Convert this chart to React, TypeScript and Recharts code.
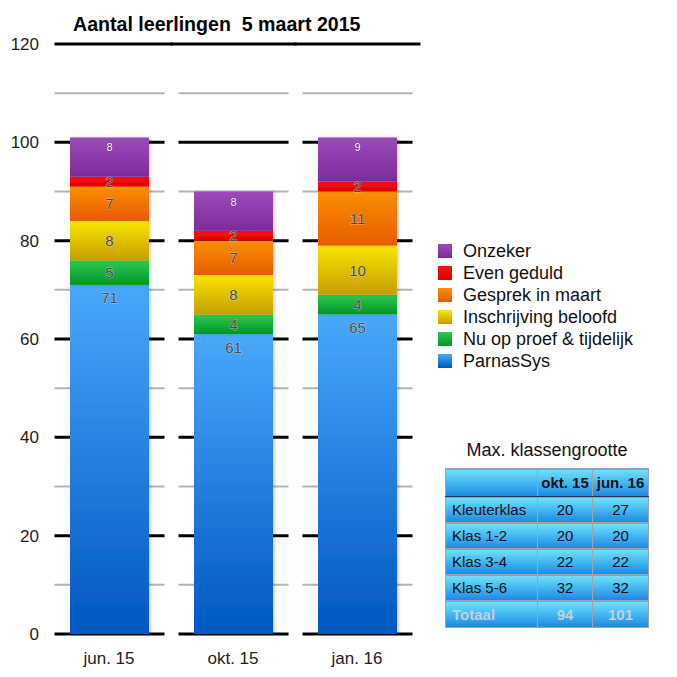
import React from 'react';
import { BarChart, Bar, XAxis, YAxis, LabelList } from 'recharts';

const categories = ['jun. 15', 'okt. 15', 'jan. 16'];
const parnasSys = [71, 61, 65];
const nuOpProef = [5, 4, 4];
const inschrijving = [8, 8, 10];
const gesprek = [7, 7, 11];
const evenGeduld = [2, 2, 2];
const onzeker = [8, 8, 9];

const yMax = 120;
const yTicks = [0, 20, 40, 60, 80, 100, 120];
const gridValues = [0, 10, 20, 30, 40, 50, 60, 70, 80, 90, 100, 110, 120];

const tableTitle = 'Max. klassengrootte';
const tableHeader = ['', 'okt. 15', 'jun. 16'];
const tableRows = ['Kleuterklas', 'Klas 1-2', 'Klas 3-4', 'Klas 5-6'];
const tableOkt15 = [20, 20, 22, 32];
const tableJun16 = [27, 20, 22, 32];
const totalLabel = 'Totaal';
const totalOkt15 = 94;
const totalJun16 = 101;

const series = [
  { key: 'parnasSys', name: 'ParnasSys', values: parnasSys, top: '#48a8fb', bottom: '#0057c2', label: 'top' },
  { key: 'nuOpProef', name: 'Nu op proef & tijdelijk', values: nuOpProef, top: '#33c84c', bottom: '#00952c', label: 'center' },
  { key: 'inschrijving', name: 'Inschrijving beloofd', values: inschrijving, top: '#f8e600', bottom: '#c69e00', label: 'center' },
  { key: 'gesprek', name: 'Gesprek in maart', values: gesprek, top: '#fb8f00', bottom: '#e75c00', label: 'center' },
  { key: 'evenGeduld', name: 'Even geduld', values: evenGeduld, top: '#ff1010', bottom: '#e00000', label: 'center' },
  { key: 'onzeker', name: 'Onzeker', values: onzeker, top: '#9a4cb9', bottom: '#7e2a9b', label: 'onzeker' },
];

const data = categories.map((name, i) => {
  const row: any = { name };
  series.forEach((s) => { row[s.key] = s.values[i]; });
  return row;
});

const FONT = '"Liberation Sans", Arial, Helvetica, sans-serif';

const GridBackground = (props: any) => {
  const { x, y, width, height, index } = props;
  const cx = x + width / 2;
  const yOf = (v: number) => y + height * (1 - v / yMax);
  return (
    <g>
      {gridValues.map((v) => {
        const yy = yOf(v);
        if (v === yMax) {
          const x1 = index === 0 ? cx - 55 : cx - 63;
          const x2 = cx + 63;
          return <line key={v} x1={x1} x2={x2} y1={yy} y2={yy} stroke="#000" strokeWidth={3} />;
        }
        const major = v % 20 === 0;
        return (
          <line
            key={v}
            x1={cx - 55}
            x2={cx + 55}
            y1={yy}
            y2={yy}
            stroke={major ? '#000' : '#b4b4b4'}
            strokeWidth={major ? 3 : 2}
          />
        );
      })}
    </g>
  );
};

const makeLabel = (mode: string) => (props: any) => {
  const { x, y, width, height, value } = props;
  const cx = x + width / 2;
  if (mode === 'onzeker') {
    return (
      <text x={cx} y={y + 10} textAnchor="middle" dominantBaseline="central" fontFamily={FONT} fontSize={11}
        fill="#fff" stroke="#4a2058" strokeWidth={1.2} paintOrder="stroke" strokeOpacity={0.6}>
        {value}
      </text>
    );
  }
  const ty = mode === 'top' ? y + 13 : y + height / 2;
  return (
    <text x={cx} y={ty} textAnchor="middle" dominantBaseline="central" fontFamily={FONT} fontSize={15}
      fill="#4a4a4a" stroke="#eaeaea" strokeWidth={0.5} paintOrder="stroke">
      {value}
    </text>
  );
};

const SegmentShape = (props: any) => {
  const { x, y, width, height, fill } = props;
  if (!height || height <= 0) return null;
  return <rect x={x} y={y} width={width} height={height} fill={fill} filter="url(#barShadow)" />;
};

const cellBg = 'linear-gradient(to bottom, #72e2fc 0%, #3fb2f0 55%, #1e86e2 100%)';

export default function App() {
  return (
    <div style={{ position: 'absolute', left: 0, top: 0, width: 677, height: 677, background: '#fff', fontFamily: FONT }}>
      <div style={{ position: 'absolute', left: 73, top: 13, fontSize: 19.6, fontWeight: 'bold', color: '#000', whiteSpace: 'pre' }}>
        Aantal leerlingen  5 maart 2015
      </div>
      <BarChart
        width={677}
        height={677}
        data={data}
        margin={{ top: 44, right: 258, bottom: 13, left: 0 }}
        barSize={79}
      >
        <defs>
          {series.map((s) => (
            <linearGradient key={s.key} id={`grad-${s.key}`} x1="0" y1="0" x2="0" y2="1">
              <stop offset="0%" stopColor={s.top} />
              <stop offset="100%" stopColor={s.bottom} />
            </linearGradient>
          ))}
          <filter id="barShadow" x="-10%" y="-10%" width="130%" height="120%">
            <feDropShadow dx="2" dy="0" stdDeviation="1.5" floodColor="#000" floodOpacity="0.18" />
          </filter>
        </defs>
        <XAxis
          dataKey="name"
          axisLine={false}
          tickLine={false}
          tickSize={0}
          tickMargin={18}
          tick={{ fontSize: 17, fill: '#222', fontFamily: FONT }}
        />
        <YAxis
          domain={[0, yMax]}
          ticks={yTicks}
          axisLine={false}
          tickLine={false}
          tickSize={0}
          tickMargin={8}
          width={47}
          interval={0}
          tick={{ fontSize: 17, fill: '#222', fontFamily: FONT }}
        />
        {series.map((s, i) => (
          <Bar
            key={s.key}
            dataKey={s.key}
            name={s.name}
            stackId="a"
            fill={`url(#grad-${s.key})`}
            isAnimationActive={false}
            background={i === 0 ? (p: any) => <GridBackground {...p} /> : undefined}
            shape={(p: any) => <SegmentShape {...p} />}
          >
            <LabelList dataKey={s.key} content={makeLabel(s.label)} />
          </Bar>
        ))}
      </BarChart>

      {/* Legend */}
      <div style={{ position: 'absolute', left: 438, top: 240 }}>
        {[...series].reverse().map((s) => (
          <div key={s.key} style={{ display: 'flex', alignItems: 'center', height: 22, fontSize: 18, color: '#111' }}>
            <span style={{ display: 'inline-block', width: 14, height: 14, background: `linear-gradient(${s.top}, ${s.bottom})`, marginRight: 11 }} />
            <span>{s.name}</span>
          </div>
        ))}
      </div>

      {/* Table */}
      <div style={{ position: 'absolute', left: 445, top: 440, width: 204, textAlign: 'center', fontSize: 18, color: '#111' }}>
        {tableTitle}
      </div>
      <table
        style={{
          position: 'absolute', left: 445, top: 468, borderCollapse: 'collapse', fontSize: 15,
          fontFamily: FONT, color: '#111', tableLayout: 'fixed',
        }}
      >
        <colgroup>
          <col style={{ width: 92 }} />
          <col style={{ width: 55 }} />
          <col style={{ width: 56 }} />
        </colgroup>
        <tbody>
          <tr style={{ height: 28 }}>
            {tableHeader.map((h, i) => (
              <td key={i} style={{ background: cellBg, border: '1px solid #a4a4a4', borderBottom: '1px solid #333', fontWeight: 'bold', textAlign: 'center', padding: 0 }}>{h}</td>
            ))}
          </tr>
          {tableRows.map((r, i) => (
            <tr key={r} style={{ height: 26 }}>
              <td style={{ background: cellBg, border: '1px solid #a4a4a4', textAlign: 'left', paddingLeft: 6 }}>{r}</td>
              <td style={{ background: cellBg, border: '1px solid #a4a4a4', textAlign: 'center', padding: 0 }}>{tableOkt15[i]}</td>
              <td style={{ background: cellBg, border: '1px solid #a4a4a4', textAlign: 'center', padding: 0 }}>{tableJun16[i]}</td>
            </tr>
          ))}
          <tr style={{ height: 27, color: '#bfd1e2', fontWeight: 'bold' }}>
            <td style={{ background: cellBg, border: '1px solid #a4a4a4', borderTop: '1px solid #eee', textAlign: 'left', paddingLeft: 6 }}>{totalLabel}</td>
            <td style={{ background: cellBg, border: '1px solid #a4a4a4', borderTop: '1px solid #eee', textAlign: 'center', padding: 0 }}>{totalOkt15}</td>
            <td style={{ background: cellBg, border: '1px solid #a4a4a4', borderTop: '1px solid #eee', textAlign: 'center', padding: 0 }}>{totalJun16}</td>
          </tr>
        </tbody>
      </table>
    </div>
  );
}
